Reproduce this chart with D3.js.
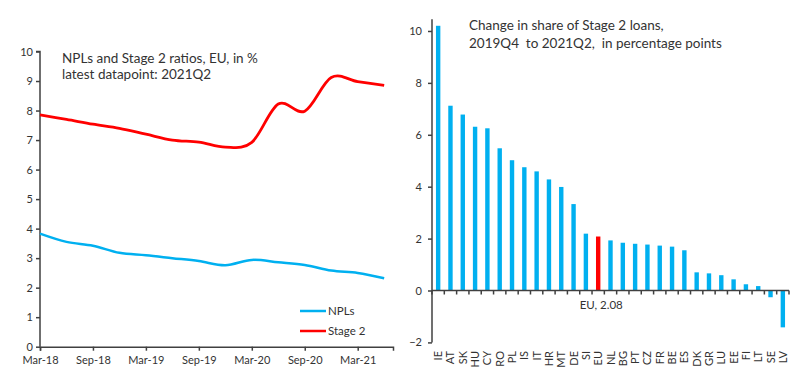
<!DOCTYPE html>
<html><head><meta charset="utf-8">
<script src="https://cdn.jsdelivr.net/npm/d3@7"></script>
<style>body{margin:0;background:#fff}svg{display:block;font-family:Lato,"Open Sans",sans-serif}</style>
</head><body><svg id="c" width="800" height="382"></svg>
<script>
// Left chart data (quarterly, month offset from Mar-18)
const quarters = ["2018Q1","2018Q2","2018Q3","2018Q4","2019Q1","2019Q2","2019Q3","2019Q4","2020Q1","2020Q2","2020Q3","2020Q4","2021Q1","2021Q2"];
const npls   = [3.83,3.55,3.42,3.18,3.10,3.00,2.90,2.76,2.94,2.86,2.77,2.58,2.50,2.32];
const stage2 = [7.85,7.70,7.54,7.40,7.20,7.00,6.93,6.76,6.92,8.22,7.98,9.12,8.98,8.85];
const xTickLabels = ["Mar-18","Sep-18","Mar-19","Sep-19","Mar-20","Sep-20","Mar-21"];
const leftYTicks = [0,1,2,3,4,5,6,7,8,9,10];
// Right chart data
const countries = ["IE","AT","SK","HU","CY","RO","PL","IS","IT","HR","MT","DE","SI","EU","NL","BG","PT","CZ","FR","BE","ES","DK","GR","LU","EE","FI","LT","SE","LV"];
const changes = [10.2,7.12,6.78,6.31,6.25,5.48,5.02,4.75,4.59,4.28,3.99,3.33,2.19,2.08,1.93,1.84,1.80,1.77,1.73,1.69,1.55,0.70,0.66,0.59,0.43,0.24,0.17,-0.26,-1.42];
const rightYTicks = [-2,0,2,4,6,8,10];

const BLUE = "#00B0F0", RED = "#FF0000", AX = "#404040", TXT = "#333";
const svg = d3.select("#c");

// ---------- Left chart ----------
const L = svg.append("g");
const xL = d3.scaleLinear().domain([0, 40]).range([40, 393]);
const yL = d3.scaleLinear().domain([0, 10]).range([346.7, 51.5]);
const qx = (i) => xL(i * 3);

const axYL = L.append("g").attr("transform", `translate(${xL(0)},0)`)
  .call(d3.axisLeft(yL).tickValues(leftYTicks).tickSize(4).tickPadding(3).tickFormat(d3.format("d")));
const axXL = L.append("g").attr("transform", `translate(0,${yL(0)})`)
  .call(d3.axisBottom(xL).tickValues(xTickLabels.map((d, i) => i * 6)).tickSize(4).tickPadding(6)
    .tickFormat((d, i) => xTickLabels[i]));
[axYL, axXL].forEach(a => {
  a.select(".domain").attr("stroke", AX).attr("stroke-width", 1.5);
  a.selectAll(".tick line").attr("stroke", AX).attr("stroke-width", 1.5);
  a.selectAll("text").attr("fill", TXT).style("font-size", "11px").style("font-family", "Lato, sans-serif");
});
axYL.select(".domain").attr("d", `M-4,${yL(10)}H0V${yL(0)}`);

const lineGen = d3.line().x((d, i) => qx(i)).y(d => yL(d)).curve(d3.curveCardinal.tension(0));
L.append("path").datum(npls).attr("d", lineGen).attr("fill", "none").attr("stroke", BLUE).attr("stroke-width", 2.5);
L.append("path").datum(stage2).attr("d", lineGen).attr("fill", "none").attr("stroke", RED).attr("stroke-width", 2.8);

L.append("text").attr("x", 62).attr("y", 63).attr("fill", TXT).style("font-size", "13.5px").text("NPLs and Stage 2 ratios, EU, in %");
L.append("text").attr("x", 62).attr("y", 79).attr("fill", TXT).style("font-size", "13.5px").text("latest datapoint: 2021Q2");

const legend = [{name: "NPLs", color: BLUE, y: 311}, {name: "Stage 2", color: RED, y: 331}];
legend.forEach(l => {
  L.append("line").attr("x1", 300).attr("x2", 326).attr("y1", l.y).attr("y2", l.y).attr("stroke", l.color).attr("stroke-width", 2.5);
  L.append("text").attr("x", 328).attr("y", l.y + 4).attr("fill", TXT).style("font-size", "11.5px").text(l.name);
});

// ---------- Right chart ----------
const R = svg.append("g");
const xR = d3.scaleBand().domain(countries).range([432, 789]);
const yR = d3.scaleLinear().domain([-2, 10.45]).range([342.4, 19.3]);

R.selectAll("rect.bar").data(countries).join("rect")
  .attr("x", d => xR(d) + xR.bandwidth() / 2 - 2.2)
  .attr("width", 4.4)
  .attr("y", (d, i) => yR(Math.max(0, changes[i])))
  .attr("height", (d, i) => Math.abs(yR(changes[i]) - yR(0)))
  .attr("fill", d => d === "EU" ? RED : BLUE);

const axYR = R.append("g").attr("transform", `translate(432,0)`)
  .call(d3.axisLeft(yR).tickValues(rightYTicks).tickSize(4).tickPadding(6).tickFormat(d3.format("d")));
axYR.select(".domain").attr("d", `M0,${yR(10.45)}V${yR(-2)}`);
const axXR = R.append("g").attr("transform", `translate(0,${yR(0)})`);
axXR.append("path").attr("d", `M432,0H789`).attr("stroke", AX).attr("stroke-width", 1.5);
axXR.selectAll("line.tk").data(d3.range(countries.length + 1)).join("line")
  .attr("x1", i => 432 + i * xR.step()).attr("x2", i => 432 + i * xR.step())
  .attr("y1", 0).attr("y2", 4).attr("stroke", AX).attr("stroke-width", 1.5);
axYR.select(".domain").attr("stroke", AX).attr("stroke-width", 1.5);
axYR.selectAll(".tick line").attr("stroke", AX).attr("stroke-width", 1.5);
axYR.selectAll("text").attr("fill", TXT).style("font-size", "11px").style("font-family", "Lato, sans-serif");

R.selectAll("text.cat").data(countries).join("text").attr("class", "cat")
  .attr("transform", d => `translate(${xR(d) + xR.bandwidth() / 2 + 4},351) rotate(-90)`)
  .attr("text-anchor", "end").attr("fill", TXT).style("font-size", "11px").text(d => d);

R.append("text").attr("x", xR("EU") + xR.bandwidth() / 2 + 3).attr("y", 309).attr("text-anchor", "middle")
  .attr("fill", TXT).style("font-size", "11.5px").text("EU, " + d3.format(".2f")(changes[countries.indexOf("EU")]));

R.append("text").attr("x", 469).attr("y", 30).attr("fill", TXT).style("font-size", "13.5px").text("Change in share of Stage 2 loans,");
R.append("text").attr("x", 469).attr("y", 48).attr("fill", TXT).style("font-size", "13.5px").attr("xml:space", "preserve").text("2019Q4  to 2021Q2,  in percentage points");
</script></body></html>
